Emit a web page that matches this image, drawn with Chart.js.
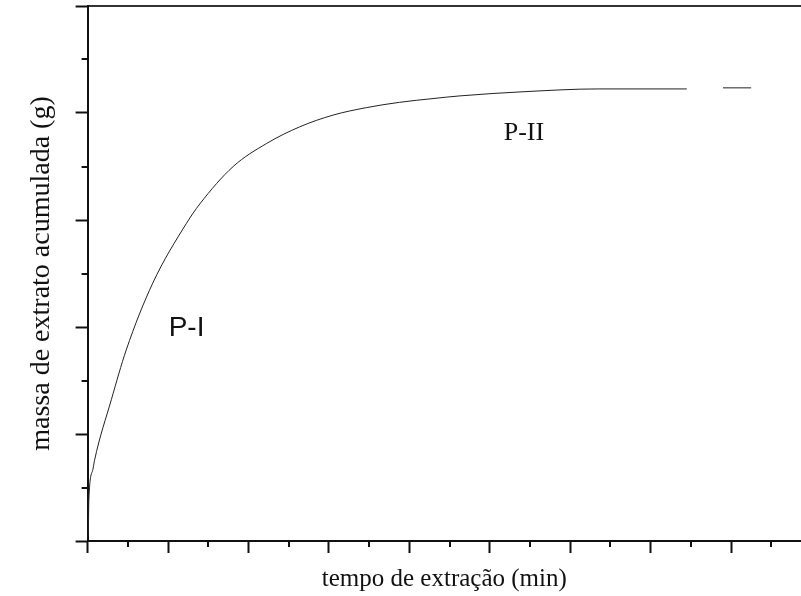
<!DOCTYPE html>
<html>
<head>
<meta charset="utf-8">
<script src="https://cdn.jsdelivr.net/npm/chart.js@4"></script>
<style>
  html, body { margin: 0; padding: 0; background: #fff; }
  canvas { display: block; }
</style>
</head>
<body>
<canvas id="c" width="801" height="596"></canvas>
<script>
// Extraction curve: accumulated mass vs time (arbitrary units).
const tempo = [0, 0.02, 0.03, 0.13, 0.17, 0.59, 0.96, 1.62, 2.46, 2.79, 3.62, 4.45, 5.27, 6.10, 6.93, 7.76, 8.59, 9.26, 10.9, 12.7, 14.9, 15.3, 15.8, 16.5];
const massa = [0.05, 0.25, 0.75, 1.33, 1.5, 2.64, 3.57, 4.82, 5.94, 6.30, 7.00, 7.43, 7.74, 7.96, 8.10, 8.20, 8.27, 8.32, 8.40, 8.45, 8.45, null, 8.47, 8.47];

const xMax = 17.74;
const yMax = 10;

// Region labels, placed in data coordinates.
const regionLabels = [
  { text: 'P-I',  x: 2.46,  y: 3.98, font: '28px "Liberation Sans", Arial, sans-serif' },
  { text: 'P-II', x: 10.85, y: 7.63, font: '26px "Liberation Serif", "Times New Roman", serif' },
];

const ink = '#111';
const serif = '"Liberation Serif", "Times New Roman", serif';

// Minor ticks at odd units plus the region labels.
const extras = {
  id: 'extras',
  afterDraw(chart) {
    const { ctx, scales: { x, y } } = chart;
    ctx.save();
    ctx.strokeStyle = ink;
    ctx.lineWidth = 2;
    ctx.beginPath();
    for (let v = 1; v < xMax; v += 2) {
      const px = Math.round(x.getPixelForValue(v));
      ctx.moveTo(px, x.top);
      ctx.lineTo(px, x.top + 6);
    }
    for (let v = 1; v < yMax; v += 2) {
      const py = Math.round(y.getPixelForValue(v));
      ctx.moveTo(y.right, py);
      ctx.lineTo(y.right - 6, py);
    }
    ctx.stroke();

    ctx.fillStyle = ink;
    ctx.textAlign = 'center';
    ctx.textBaseline = 'middle';
    regionLabels.forEach(l => {
      ctx.font = l.font;
      ctx.fillText(l.text, x.getPixelForValue(l.x), y.getPixelForValue(l.y));
    });
    ctx.restore();
  },
};

const tickGrid = {
  drawOnChartArea: false,
  drawTicks: true,
  tickLength: 12,
  tickWidth: 2,
  tickColor: ink,
};

new Chart(document.getElementById('c'), {
  type: 'line',
  data: {
    datasets: [{
      data: tempo.map((t, i) => ({ x: t, y: massa[i] })),
      borderColor: '#222',
      borderWidth: 1,
      pointRadius: 0,
      cubicInterpolationMode: 'monotone',
      spanGaps: false,
      fill: false,
    }],
  },
  options: {
    responsive: false,
    animation: false,
    layout: { padding: { top: 6, left: 0, right: 0, bottom: 0 } },
    plugins: { legend: { display: false }, tooltip: { enabled: false } },
    scales: {
      x: {
        type: 'linear',
        position: 'bottom',
        min: 0,
        max: xMax,
        ticks: { display: false, stepSize: 2, includeBounds: false },
        grid: tickGrid,
        border: { color: ink, width: 2 },
        title: {
          display: true,
          text: 'tempo de extração (min)',
          color: ink,
          font: { family: serif, size: 25 },
          padding: { top: 11, bottom: 2 },
        },
      },
      x2: {
        type: 'linear',
        position: 'top',
        min: 0,
        max: xMax,
        ticks: { display: false },
        grid: { drawOnChartArea: false, drawTicks: false },
        border: { color: '#333', width: 2 },
      },
      y: {
        min: 0,
        max: yMax,
        ticks: { display: false, stepSize: 2, includeBounds: false },
        grid: tickGrid,
        border: { color: ink, width: 2 },
        title: {
          display: true,
          text: 'massa de extrato acumulada (g)',
          color: ink,
          font: { family: serif, size: 28 },
          padding: { top: 25, bottom: 17 },
        },
      },
    },
  },
  plugins: [extras],
});
</script>
</body>
</html>
